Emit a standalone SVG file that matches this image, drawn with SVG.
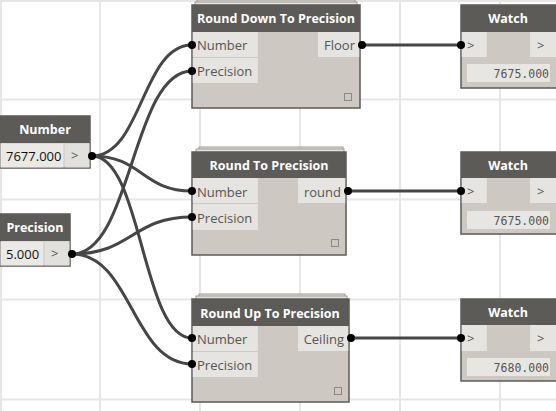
<svg xmlns="http://www.w3.org/2000/svg" width="556" height="411" viewBox="0 0 556 411">
<style>
.grid{stroke:#e6e6e6;stroke-width:2;fill:none}
.hdr{fill:#5d5b58}
.body{fill:#cdc9c2;stroke:#5a5a5a;stroke-width:1.5}
.stack{fill:#e4e2de;stroke:#9d9a96;stroke-width:1}
.port{fill:#e6e4e0}
.ht{font-family:"Open Sans","DejaVu Sans",sans-serif;font-size:12.5px;font-weight:bold;fill:#ffffff;text-anchor:middle}
.pt{font-family:"Open Sans","DejaVu Sans",sans-serif;font-size:13px;fill:#555555}
.vt{font-family:"Open Sans","DejaVu Sans",sans-serif;font-size:13px;fill:#111111}
.wt{font-family:"DejaVu Sans Mono","Liberation Mono",monospace;font-size:11.5px;fill:#555555;text-anchor:end}
.sq{fill:none;stroke:#8c8985;stroke-width:1}
.wire{fill:none;stroke:#464646;stroke-width:3}
.dot{fill:#000000}
</style>
<rect x="0" y="0" width="556" height="411" fill="#ffffff"/>
<g id="grid">
<path class="grid" d="M1,0V411M100,0V411M200,0V411M300,0V411M400,0V411M500,0V411M0,1H556M0,99.5H556M0,199.5H556M0,299.5H556M0,399.5H556"/>
</g>
<g id="connectors">
<path class="wire" d="M92,156 C142,156 142,45 192,45"/>
<path class="wire" d="M92,156 C142,156 142,191 192,191"/>
<path class="wire" d="M92,156 C142,156 142,338 192,338"/>
<path class="wire" d="M72,254 C132,254 132,71 192,71"/>
<path class="wire" d="M72,254 C132,254 132,217 192,217"/>
<path class="wire" d="M72,254 C132,254 132,364 192,364"/>
<path class="wire" d="M362,45 H461"/>
<path class="wire" d="M348,191 H461"/>
<path class="wire" d="M351,338 H461"/>
</g>
<g id="number">
<rect class="body" x="0" y="116" width="90" height="52"/>
<rect class="hdr" x="0" y="116" width="90" height="27"/>
<rect x="0.5" y="143.5" width="63" height="24" fill="#ebe9e6"/>
<rect x="64.5" y="143.5" width="25" height="24" fill="#e2e0dc"/>
<text class="ht" x="45" y="134">Number</text>
<text class="vt" x="6" y="161">7677.000</text>
<text class="pt" x="71" y="160">&gt;</text>
<circle class="dot" cx="92" cy="156" r="4"/>
</g>
<g id="precision">
<rect class="body" x="0" y="214" width="70" height="52"/>
<rect class="hdr" x="0" y="214" width="70" height="27"/>
<rect x="0.5" y="241.5" width="43" height="24" fill="#ebe9e6"/>
<rect x="44.5" y="241.5" width="25" height="24" fill="#e2e0dc"/>
<text class="ht" x="35" y="232">Precision</text>
<text class="vt" x="6" y="259">5.000</text>
<text class="pt" x="51" y="258">&gt;</text>
<circle class="dot" cx="72" cy="254" r="4"/>
</g>
<g id="round-down">
<rect class="stack" x="197" y="0" width="158" height="10"/>
<rect class="stack" x="195" y="2" width="162" height="10"/>
<rect class="body" x="192" y="5" width="168" height="103"/>
<rect class="hdr" x="192" y="5" width="168" height="27"/>
<rect class="port" x="192.8" y="32" width="65" height="25"/>
<rect class="port" x="192.8" y="58" width="65" height="25"/>
<rect class="port" x="318" y="32" width="41.2" height="25"/>
<text class="ht" x="276" y="23">Round Down To Precision</text>
<text class="pt" x="197" y="50">Number</text>
<text class="pt" x="197" y="76">Precision</text>
<text class="pt" x="355" y="50" text-anchor="end">Floor</text>
<rect class="sq" x="344.5" y="93.5" width="7" height="7"/>
<circle class="dot" cx="192" cy="45" r="4"/>
<circle class="dot" cx="192" cy="71" r="4"/>
<circle class="dot" cx="362" cy="45" r="4"/>
</g>
<g id="round">
<rect class="stack" x="199" y="147" width="144" height="10"/>
<rect class="stack" x="196" y="149" width="148" height="10"/>
<rect class="body" x="192" y="152" width="154" height="103"/>
<rect class="hdr" x="192" y="152" width="154" height="26"/>
<rect class="port" x="192.8" y="178" width="65" height="25"/>
<rect class="port" x="192.8" y="204" width="65" height="26"/>
<rect class="port" x="298" y="178" width="47.2" height="25"/>
<text class="ht" x="269" y="170">Round To Precision</text>
<text class="pt" x="197" y="197">Number</text>
<text class="pt" x="197" y="223">Precision</text>
<text class="pt" x="341" y="197" text-anchor="end">round</text>
<rect class="sq" x="331.5" y="239.5" width="7" height="7"/>
<circle class="dot" cx="192" cy="191" r="4"/>
<circle class="dot" cx="192" cy="217" r="4"/>
<circle class="dot" cx="348" cy="191" r="4"/>
</g>
<g id="round-up">
<rect class="stack" x="199" y="294" width="146" height="10"/>
<rect class="stack" x="196" y="296" width="151" height="10"/>
<rect class="body" x="192" y="299" width="157" height="103"/>
<rect class="hdr" x="192" y="299" width="157" height="27"/>
<rect class="port" x="192.8" y="326" width="65" height="25"/>
<rect class="port" x="192.8" y="352" width="65" height="25"/>
<rect class="port" x="298" y="326" width="50.2" height="25"/>
<text class="ht" x="270" y="318">Round Up To Precision</text>
<text class="pt" x="197" y="344">Number</text>
<text class="pt" x="197" y="370">Precision</text>
<text class="pt" x="344" y="344" text-anchor="end">Ceiling</text>
<rect class="sq" x="334.5" y="387.5" width="7" height="7"/>
<circle class="dot" cx="192" cy="338" r="4"/>
<circle class="dot" cx="192" cy="364" r="4"/>
<circle class="dot" cx="351" cy="338" r="4"/>
</g>
<g id="watch1">
<rect class="body" x="461" y="5" width="96" height="83"/>
<rect class="hdr" x="461" y="5" width="96" height="27"/>
<rect class="port" x="461.8" y="32" width="25" height="25"/>
<rect class="port" x="530" y="32" width="26" height="25"/>
<rect x="467" y="64" width="83" height="18" fill="#e8e6e2"/>
<text class="ht" x="508" y="23">Watch</text>
<text class="pt" x="467" y="50">&gt;</text>
<text class="pt" x="537" y="50">&gt;</text>
<text class="wt" x="549" y="78">7675.000</text>
<circle class="dot" cx="461" cy="45" r="4"/>
</g>
<g id="watch2">
<rect class="body" x="461" y="152" width="96" height="82"/>
<rect class="hdr" x="461" y="152" width="96" height="26"/>
<rect class="port" x="461.8" y="178" width="25" height="25"/>
<rect class="port" x="530" y="178" width="26" height="25"/>
<rect x="467" y="211" width="83" height="18" fill="#e8e6e2"/>
<text class="ht" x="508" y="170">Watch</text>
<text class="pt" x="467" y="196">&gt;</text>
<text class="pt" x="537" y="196">&gt;</text>
<text class="wt" x="549" y="225">7675.000</text>
<circle class="dot" cx="461" cy="191" r="4"/>
</g>
<g id="watch3">
<rect class="body" x="461" y="299" width="96" height="82"/>
<rect class="hdr" x="461" y="299" width="96" height="26"/>
<rect class="port" x="461.8" y="325" width="25" height="26"/>
<rect class="port" x="530" y="325" width="26" height="26"/>
<rect x="467" y="358" width="83" height="18" fill="#e8e6e2"/>
<text class="ht" x="508" y="317">Watch</text>
<text class="pt" x="467" y="343">&gt;</text>
<text class="pt" x="537" y="343">&gt;</text>
<text class="wt" x="549" y="372">7680.000</text>
<circle class="dot" cx="461" cy="338" r="4"/>
</g>
</svg>
